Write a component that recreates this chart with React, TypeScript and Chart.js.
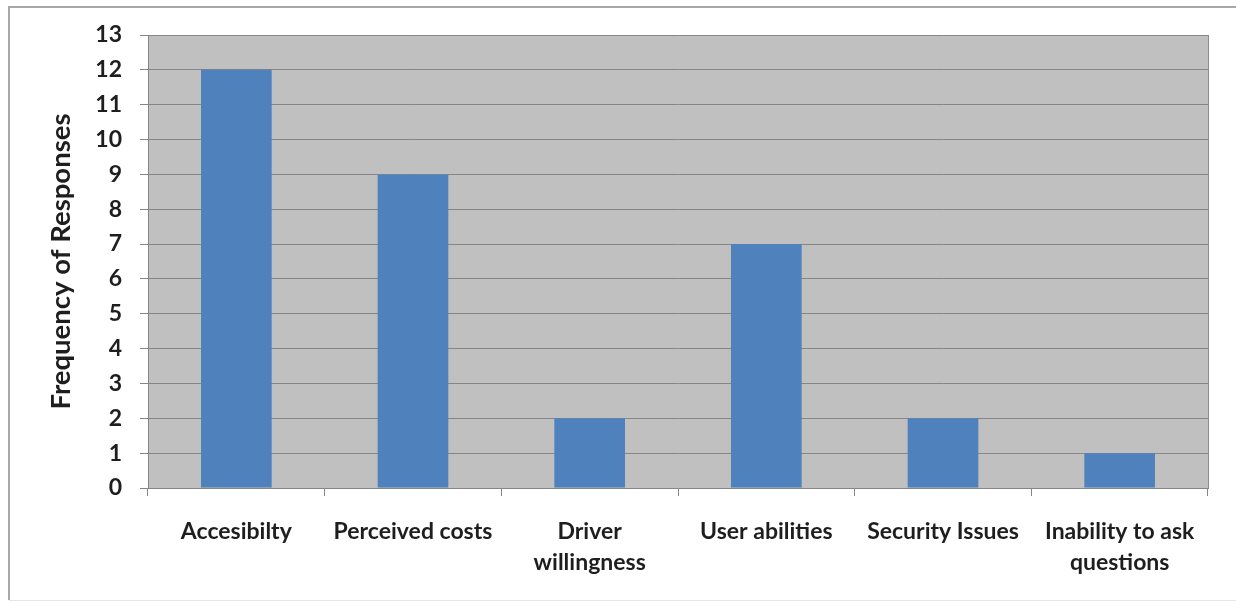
import React, { useEffect, useRef } from "react";
import { Chart, registerables } from "chart.js";

Chart.register(...registerables);

const categories: (string | string[])[] = [
  "Accesibilty",
  "Perceived costs",
  ["Driver", "willingness"],
  "User abilities",
  "Security Issues",
  ["Inability to ask", "questions"],
];
const responses: number[] = [12, 9, 2, 7, 2, 1];
const yAxisTitle = "Frequency of Responses";
const yMin = 0;
const yMax = 13;

const frame = {
  id: "frame",
  beforeDraw(chart: any) {
    const { ctx, chartArea } = chart;
    ctx.save();
    ctx.fillStyle = "#ffffff";
    ctx.fillRect(0, 0, chart.width, chart.height);
    ctx.strokeStyle = "#a8a8a8";
    ctx.lineWidth = 2;
    ctx.beginPath();
    ctx.moveTo(1236, 7);
    ctx.lineTo(9, 7);
    ctx.lineTo(9, 600);
    ctx.stroke();
    ctx.strokeStyle = "#e6e6e6";
    ctx.lineWidth = 1;
    ctx.beginPath();
    ctx.moveTo(9, 600.5);
    ctx.lineTo(1236, 600.5);
    ctx.stroke();
    ctx.fillStyle = "#c0c0c0";
    ctx.fillRect(chartArea.left, chartArea.top, chartArea.right - chartArea.left, chartArea.bottom - chartArea.top);
    ctx.strokeStyle = "#8c8c8c";
    ctx.beginPath();
    ctx.moveTo(chartArea.right + 0.5, chartArea.top);
    ctx.lineTo(chartArea.right + 0.5, chartArea.bottom);
    ctx.stroke();
    ctx.restore();
  },
};

export default function App() {
  const ref = useRef<HTMLCanvasElement>(null);
  useEffect(() => {
    if (!ref.current) return;
    const font = { family: "Lato", weight: "bold" as const, size: 23 };
    const chart = new Chart(ref.current, {
      type: "bar",
      data: {
        labels: categories,
        datasets: [
          {
            data: responses,
            backgroundColor: "#4f81bd",
            borderWidth: 0,
            barPercentage: 0.4,
            categoryPercentage: 1,
          },
        ],
      },
      options: {
        animation: false,
        responsive: false,
        layout: { padding: { left: 0, right: 28, top: 35, bottom: 0 } },
        plugins: { legend: { display: false }, tooltip: { enabled: false } },
        scales: {
          x: {
            grid: {
              display: true,
              drawOnChartArea: false,
              drawTicks: true,
              tickLength: 8,
              color: "#868686",
              offset: true,
            },
            border: { display: true, color: "#868686" },
            ticks: {
              maxRotation: 0,
              minRotation: 0,
              autoSkip: false,
              padding: 20,
              color: "#1e1e1e",
              font: { ...font, lineHeight: 1.35 },
            },
            afterFit: (scale: any) => {
              scale.height = 117;
            },
          },
          y: {
            min: yMin,
            max: yMax,
            ticks: {
              stepSize: 1,
              padding: 18,
              color: "#1e1e1e",
              font,
            },
            grid: { color: "#868686", tickLength: 8, drawTicks: true },
            border: { display: true, color: "#868686" },
            title: {
              display: true,
              text: yAxisTitle,
              color: "#1e1e1e",
              font: { family: "Lato", weight: "bold", size: 27.5 },
              padding: { top: 45, bottom: 0 },
            },
            afterFit: (scale: any) => {
              scale.width = 148;
            },
          },
        },
      },
      plugins: [frame],
    });
    return () => chart.destroy();
  }, []);
  return (
    <canvas
      ref={ref}
      width={1236}
      height={605}
      style={{ position: "fixed", left: 0, top: 0, width: 1236, height: 605 }}
    />
  );
}
